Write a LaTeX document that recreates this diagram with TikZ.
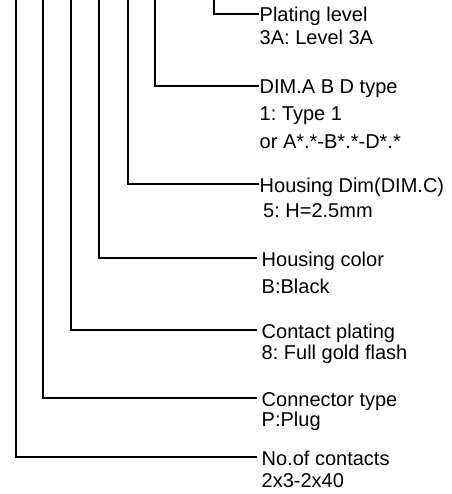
\documentclass[tikz,border=0pt]{standalone}
\usepackage{fontspec}
\setmainfont{Liberation Sans}
\usetikzlibrary{positioning,calc}
\frenchspacing
\tikzset{
  leader/.style={draw=black, line width=1.5pt},
  titletext/.style={font=\fontsize{20}{22}\selectfont, inner sep=0pt,
    text height=16pt, text depth=0pt},
  valuetext/.style={font=\fontsize{20}{22}\selectfont, anchor=base west, inner sep=0pt},
}
\begin{document}
\begin{tikzpicture}[x=1pt,y=-1pt]
  \useasboundingbox (0,0) rectangle (451,494);
  % name / leader x / leader y / line end / text gap / value gap / value shift / title / value
  \foreach \name/\lx/\ly/\lend/\tsep/\vgap/\vx/\title/\val in {
      plating/214/14/259/0.5/23/0/Plating level/3A: Level 3A,
      dimabd/155/86/259/0.5/27/0/DIM.A B D type/1: Type 1,
      housingdim/128/184/259/0.5/25/3.5/Housing Dim(DIM.C)/5: H=2.5mm,
      housingcolor/99/258/257/4.5/27/0/Housing color/B:Black,
      plating8/71/330/257/4.5/21/0/Contact plating/8: Full gold flash,
      contype/43/398/257/4.5/20/0/Connector type/P:Plug,
      contacts/16/457/257/4.5/22/0/No.of contacts/2x3-2x40}{
    \coordinate (\name-top) at (\lx,0);
    \coordinate (\name-end) at (\lend,\ly);
    \node[titletext, right=\tsep pt of \name-end] (\name) {\title};
    \node[valuetext] (\name-val) at ([xshift=\vx pt, yshift=-\vgap pt]\name.base west) {\val};
    \draw[leader] (\name-top) |- (\name-end);
  }
  \node[valuetext] (dimabd-alt) at ([yshift=-28pt]dimabd-val.base west) {or A*.*-B*.*-D*.*};
\end{tikzpicture}
\end{document}
